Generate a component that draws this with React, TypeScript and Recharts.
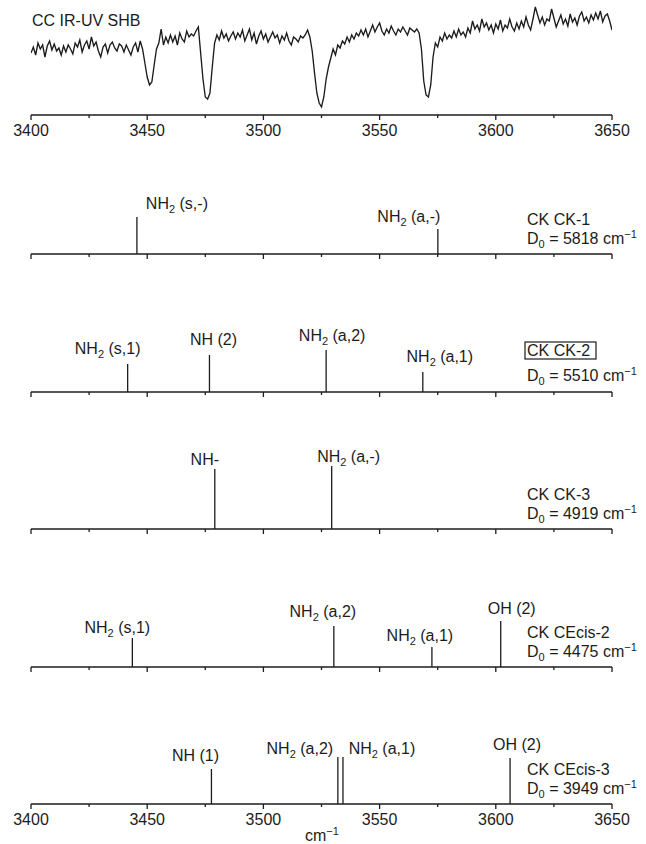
import React from 'react';
import { LineChart, Line, XAxis, YAxis, BarChart, Bar } from 'recharts';

// ---------- data ----------
const spectrumStart = 3400;
const spectrumStep = 1;
const spectrumSignal = [
  62, 68, 60, 72, 66, 70, 58, 69, 74, 65,
  71, 64, 67, 60, 69, 63, 70, 66, 61, 72,
  68, 75, 63, 70, 74, 66, 78, 69, 73, 64,
  58, 68, 71, 62, 70, 73, 67, 64, 71, 69,
  63, 70, 65, 60, 68, 72, 63, 74, 66, 52,
  38, 30, 33, 50, 66, 72, 86, 70, 78, 72,
  80, 73, 79, 70, 82, 76, 73, 84, 78, 81,
  79, 84, 88, 62, 36, 18, 16, 22, 48, 72,
  80, 75, 84, 77, 81, 74, 79, 83, 76, 82,
  78, 85, 74, 80, 86, 75, 82, 71, 79, 84,
  76, 81, 73, 78, 83, 77, 80, 72, 79, 75,
  82, 74, 70, 78, 76, 73, 79, 77, 80, 85,
  78, 64, 42, 22, 12, 8, 18, 36, 48, 57,
  66, 60, 70, 67, 74, 71, 78, 73, 80, 76,
  82, 79, 85, 80, 86, 78, 84, 90, 83, 88,
  92, 84, 80, 86, 82, 89, 84, 80, 86, 83,
  88, 84, 80, 87, 85, 83, 86, 82, 66, 34,
  20, 18, 30, 58, 72, 68, 78, 74, 82, 76,
  80, 77, 84, 78, 86, 80, 83, 78, 87, 82,
  94, 86, 90, 84, 96, 88, 92, 85, 90, 82,
  91, 86, 95, 84, 90, 87, 96, 88, 84, 92,
  86, 94, 88, 98, 90, 85, 96, 108, 100, 92,
  98, 90, 96, 94, 106, 97, 88, 94, 100, 91,
  96, 89, 101, 93, 97, 90, 99, 103, 94, 98,
  92, 100, 95, 102, 96, 104, 93, 99, 101, 94,
  85,
];

const axisTicks = [3400, 3425, 3450, 3475, 3500, 3525, 3550, 3575, 3600, 3625, 3650];
const labeledTicks = [3400, 3450, 3500, 3550, 3600, 3650];

const ck1Freq = [3445.5, 3575];
const ck1Int = [37, 25];
const ck1Labels = ['NH_2 (s,-)', 'NH_2 (a,-)'];

const ck2Freq = [3441.7, 3476.9, 3527.1, 3568.7];
const ck2Int = [28, 37, 42, 20];
const ck2Labels = ['NH_2 (s,1)', 'NH (2)', 'NH_2 (a,2)', 'NH_2 (a,1)'];

const ck3Freq = [3479, 3529.3];
const ck3Int = [60, 63];
const ck3Labels = ['NH-', 'NH_2 (a,-)'];

const cecis2Freq = [3443.5, 3530.2, 3572.4, 3602];
const cecis2Int = [29, 41, 20, 46];
const cecis2Labels = ['NH_2 (s,1)', 'NH_2 (a,2)', 'NH_2 (a,1)', 'OH (2)'];

const cecis3Freq = [3477.6, 3532, 3534.2, 3606.1];
const cecis3Int = [35, 47, 47, 46];
const cecis3Labels = ['NH (1)', 'NH_2 (a,2)', 'NH_2 (a,1)', 'OH (2)'];

const conformerNames = ['CK CK-1', 'CK CK-2', 'CK CK-3', 'CK CEcis-2', 'CK CEcis-3'];
const d0Values = [5818, 5510, 4919, 4475, 3949];
const spectrumTitle = 'CC IR-UV SHB';

// ---------- layout ----------
const W = 646;
const INK = '#1c1c1c';
const FONT = '"Liberation Sans", Arial, Helvetica, sans-serif';
const PLOT_LEFT = 31;
const PLOT_RIGHT = 612;
const STICK_PLOT_H = 90;
const SPEC_PLOT_H = 110;
const SPEC_AXIS_Y = 115;

const panelLayout = [
  { axisY: 254, dx: [40, -29], gap: [8, 7], nameAbove: 29, d0Above: 10, boxed: false },
  { axisY: 392, dx: [-20, 4, 6, 17], gap: [10, 10, 9, 10], nameAbove: 36, d0Above: 11, boxed: true },
  { axisY: 529, dx: [-10, 17], gap: [4, 4], nameAbove: 29, d0Above: 10, boxed: false },
  { axisY: 667, dx: [-15, -11, -12, 11], gap: [5, 9, 6, 7], nameAbove: 29, d0Above: 10, boxed: false },
  { axisY: 804, dx: [-16, -38, 39, 7], gap: [8, 3, 3, 8], nameAbove: 29, d0Above: 10, boxed: false },
];

const buildSticks = (freq: number[], inten: number[], labels: string[]) =>
  freq.map((f, i) => ({ x: f, h: inten[i], label: labels[i] }));

const panels = [
  buildSticks(ck1Freq, ck1Int, ck1Labels),
  buildSticks(ck2Freq, ck2Int, ck2Labels),
  buildSticks(ck3Freq, ck3Int, ck3Labels),
  buildSticks(cecis2Freq, cecis2Int, cecis2Labels),
  buildSticks(cecis3Freq, cecis3Int, cecis3Labels),
];

const spectrumData = spectrumSignal.map((v, i) => ({ x: spectrumStart + i * spectrumStep, y: v }));

// ---------- helpers ----------
function Chem({ x, y, text, anchor = 'middle' }: { x: number; y: number; text: string; anchor?: string }) {
  const parts = text.split('_');
  const common = {
    x,
    y,
    textAnchor: anchor as any,
    fontFamily: FONT,
    fontSize: 16,
    fill: INK,
    style: { whiteSpace: 'pre' as const },
  };
  if (parts.length === 1) return <text {...common}>{text}</text>;
  const sub = parts[1][0];
  const rest = parts[1].slice(1);
  return (
    <text {...common}>
      <tspan>{parts[0]}</tspan>
      <tspan fontSize={11} dy={4}>{sub}</tspan>
      <tspan dy={-4}>{rest}</tspan>
    </text>
  );
}

function makeTick(showLabels: boolean) {
  return (props: any) => {
    const { x, y, payload } = props;
    const v = payload.value;
    const major = v % 50 === 0;
    return (
      <g>
        <line x1={x} y1={y} x2={x} y2={y + (major ? 5 : 3)} stroke={INK} strokeWidth={1.3} />
        {showLabels && labeledTicks.includes(v) ? (
          <text x={x} y={y + 21} textAnchor="middle" fontFamily={FONT} fontSize={16} fill={INK}>
            {v}
          </text>
        ) : null}
      </g>
    );
  };
}

function makeStickShape(layout: { dx: number[]; gap: number[] }) {
  return (props: any) => {
    const { x, y, width, height, index, payload } = props;
    const cx = x + width / 2;
    return (
      <g>
        <line x1={cx} y1={y} x2={cx} y2={y + height} stroke={INK} strokeWidth={1.3} />
        <Chem x={cx + layout.dx[index]} y={y - layout.gap[index]} text={payload.label} />
      </g>
    );
  };
}

function StickPanel({ data, layout, showTickLabels }: { data: any[]; layout: any; showTickLabels: boolean }) {
  const h = STICK_PLOT_H + 30;
  return (
    <div style={{ position: 'absolute', left: 0, top: layout.axisY - STICK_PLOT_H, width: W, height: h }}>
      <BarChart
        width={W}
        height={h}
        data={data}
        margin={{ top: 0, right: W - PLOT_RIGHT, bottom: 0, left: PLOT_LEFT }}
        style={{ overflow: 'visible' }}
      >
        <XAxis
          dataKey="x"
          type="number"
          domain={[3400, 3650]}
          allowDataOverflow
          ticks={axisTicks}
          interval={0}
          tickSize={0}
          tickMargin={0}
          tickLine={false}
          axisLine={{ stroke: INK, strokeWidth: 1.6 }}
          height={30}
          tick={makeTick(showTickLabels)}
        />
        <YAxis hide domain={[0, STICK_PLOT_H]} allowDataOverflow />
        <Bar dataKey="h" barSize={1.3} fill={INK} isAnimationActive={false} shape={makeStickShape(layout)} />
      </BarChart>
    </div>
  );
}

export default function App() {
  return (
    <div style={{ position: 'absolute', left: 0, top: 0, width: W, height: 844, background: '#fff' }}>
      <div style={{ position: 'absolute', left: 0, top: SPEC_AXIS_Y - SPEC_PLOT_H, width: W, height: SPEC_PLOT_H + 30 }}>
        <LineChart
          width={W}
          height={SPEC_PLOT_H + 30}
          data={spectrumData}
          margin={{ top: 0, right: W - PLOT_RIGHT, bottom: 0, left: PLOT_LEFT }}
        >
          <XAxis
            dataKey="x"
            type="number"
            domain={[3400, 3650]}
            allowDataOverflow
            ticks={axisTicks}
            interval={0}
            tickSize={0}
            tickMargin={0}
            tickLine={false}
            axisLine={{ stroke: INK, strokeWidth: 1.6 }}
            height={30}
            tick={makeTick(true)}
          />
          <YAxis hide domain={[0, SPEC_PLOT_H]} allowDataOverflow />
          <Line
            type="linear"
            dataKey="y"
            stroke={INK}
            strokeWidth={1.35}
            dot={false}
            isAnimationActive={false}
          />
        </LineChart>
      </div>

      {panels.map((d, i) => (
        <StickPanel key={i} data={d} layout={panelLayout[i]} showTickLabels={i === panels.length - 1} />
      ))}

      <svg
        width={W}
        height={844}
        style={{ position: 'absolute', left: 0, top: 0, pointerEvents: 'none' }}
      >
        <text x={32} y={26} fontFamily={FONT} fontSize={16} fill={INK}>
          {spectrumTitle}
        </text>
        {panelLayout.map((l, i) => (
          <g key={i}>
            {l.boxed ? (
              <rect x={525} y={l.axisY - 50} width={71} height={17} fill="none" stroke={INK} strokeWidth={1.2} />
            ) : null}
            <text x={527} y={l.axisY - l.nameAbove} fontFamily={FONT} fontSize={16} fill={INK}>
              {conformerNames[i]}
            </text>
            <text x={527} y={l.axisY - l.d0Above} fontFamily={FONT} fontSize={16} fill={INK} style={{ whiteSpace: 'pre' }}>
              <tspan>D</tspan>
              <tspan fontSize={11} dy={4}>0</tspan>
              <tspan dy={-4}>{` = ${d0Values[i]} cm`}</tspan>
              <tspan fontSize={11} dy={-6}>−1</tspan>
            </text>
          </g>
        ))}
        <text x={305} y={841} fontFamily={FONT} fontSize={16} fill={INK} style={{ whiteSpace: 'pre' }}>
          <tspan>cm</tspan>
          <tspan fontSize={11} dy={-6}>−1</tspan>
        </text>
      </svg>
    </div>
  );
}
